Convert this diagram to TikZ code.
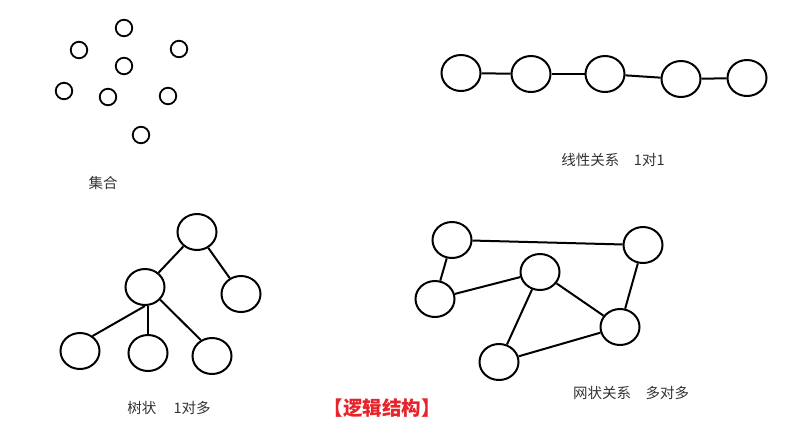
\documentclass[tikz,border=0pt]{standalone}
\usepackage{fontspec}
\newfontfamily\cjk{Noto Sans CJK SC}
\usetikzlibrary{shapes.geometric}
\definecolor{txt}{HTML}{333333}
\definecolor{redlbl}{HTML}{E8232A}
\tikzset{
  big/.style={ellipse, draw, line width=2pt, minimum width=39pt, minimum height=36pt, inner sep=0pt},
  small/.style={circle, draw, line width=1.8pt, minimum size=16.5pt, inner sep=0pt},
  edge/.style={line width=2pt},
  lbl/.style={font=\cjk\fontsize{14.5pt}{16pt}\selectfont, text=txt, inner sep=0pt},
}
\begin{document}
\begin{tikzpicture}[x=1pt,y=-1pt]
\useasboundingbox (0,0) rectangle (811,429);
% set
\node[small] (s1) at (124,28) {};
\node[small] (s2) at (79,50) {};
\node[small] (s3) at (179,49) {};
\node[small] (s4) at (124,66) {};
\node[small] (s5) at (64,91) {};
\node[small] (s6) at (108,97) {};
\node[small] (s7) at (168,96) {};
\node[small] (s8) at (141,135) {};
\node[lbl] (setlbl) at (103,183) {集合};
% linear
\node[big] (l1) at (461,73) {};
\node[big] (l2) at (531,74) {};
\node[big] (l3) at (605,74) {};
\node[big] (l4) at (681,79) {};
\node[big] (l5) at (747,78) {};
\draw[edge] (l1) -- (l2);
\draw[edge] (l2) -- (l3);
\draw[edge] (l3) -- (l4);
\draw[edge] (l4) -- (l5);
\node[lbl] (linlbl) at (613,160) {线性关系\hspace{1em}1对1};
% tree
\node[big] (root) at (197,232) {};
\node[big] (mid) at (145,287) {};
\node[big] (right) at (241,294) {};
\node[big] (bl) at (80,351) {};
\node[big] (bm) at (148,353) {};
\node[big] (br) at (212,356) {};
\draw[edge] (root) -- (mid);
\draw[edge] (root) -- (right);
\draw[edge] (mid.south) -- (bl.50);
\draw[edge] (bm.north) -- (bm.north |- mid.south);
\draw[edge] (mid.-40) -- (br.125);
\node[lbl] (treelbl) at (169,408) {树状\hspace{1.2em}1对多};
% net
\node[big] (na) at (452,240) {};
\node[big] (nb) at (643,245) {};
\node[big] (nc) at (540,272) {};
\node[big] (nd) at (435,299) {};
\node[big] (ne) at (620,327) {};
\node[big] (nf) at (499,362) {};
\draw[edge] (na) -- (nb);
\draw[edge] (na) -- (nd);
\draw[edge] (nd) -- (nc);
\draw[edge] (nc) -- (nf);
\draw[edge] (nc) -- (ne);
\draw[edge] (ne) -- (nb);
\draw[edge] (ne) -- (nf);
\node[lbl] (netlbl) at (631,393) {网状关系\hspace{1em}多对多};
% title
\node[font=\cjk\bfseries\fontsize{19.5pt}{21pt}\selectfont, text=redlbl, inner sep=0pt] (title) at (382,408) {【逻辑结构】};
\end{tikzpicture}
\end{document}
